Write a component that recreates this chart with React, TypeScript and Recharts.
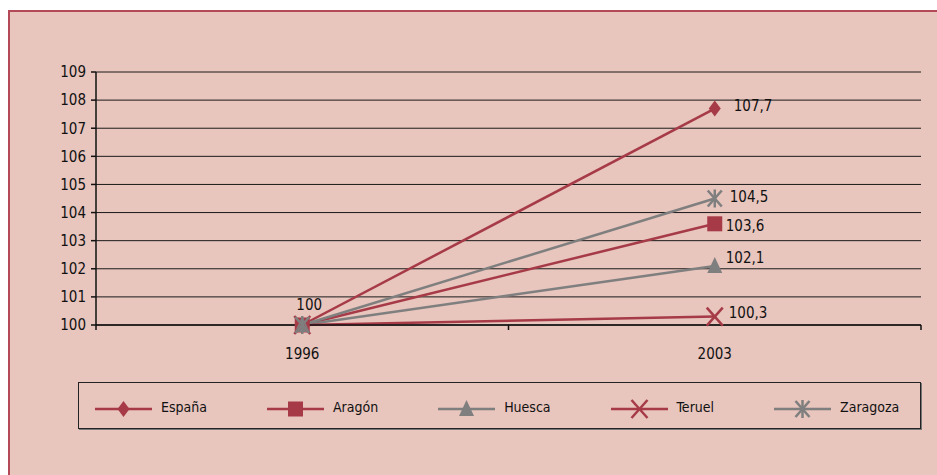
import React from 'react';
import { LineChart, Line, XAxis, YAxis, CartesianGrid, Legend } from 'recharts';

const categories = ['1996', '2003'];
const espana = [100, 107.7];
const aragon = [100, 103.6];
const huesca = [100, 102.1];
const teruel = [100, 100.3];
const zaragoza = [100, 104.5];
const yTicks = [100, 101, 102, 103, 104, 105, 106, 107, 108, 109];

const RED = '#A63A47';
const GREY = '#7F7F7F';
const BG = '#E8C5BD';
const FONT = "'DejaVu Sans Condensed', 'DejaVu Sans', sans-serif";

type Shape = 'diamond' | 'square' | 'triangle' | 'x' | 'star';

const series: { key: string; values: number[]; color: string; shape: Shape; dx: number; dy: number; showFirst?: boolean }[] = [
  { key: 'España', values: espana, color: RED, shape: 'diamond', dx: 19, dy: -3, showFirst: true },
  { key: 'Aragón', values: aragon, color: RED, shape: 'square', dx: 11, dy: 2 },
  { key: 'Huesca', values: huesca, color: GREY, shape: 'triangle', dx: 11, dy: -8 },
  { key: 'Teruel', values: teruel, color: RED, shape: 'x', dx: 14, dy: -4 },
  { key: 'Zaragoza', values: zaragoza, color: GREY, shape: 'star', dx: 15, dy: -2 },
];

const data = categories.map((c, i) => {
  const row: Record<string, number | string> = { x: i + 0.5, year: c };
  series.forEach((s) => {
    row[s.key] = s.values[i];
  });
  return row;
});

const xTicks: number[] = [];
for (let i = 0; i <= categories.length * 2; i++) xTicks.push(i / 2);

const fmt = (v: number) => String(v).replace('.', ',');

function Marker({ cx, cy, shape, color }: { cx: number; cy: number; shape: Shape; color: string }) {
  if (cx == null || cy == null) return null;
  switch (shape) {
    case 'diamond':
      return <polygon points={`${cx},${cy - 8} ${cx + 6},${cy} ${cx},${cy + 8} ${cx - 6},${cy}`} fill={color} />;
    case 'square':
      return <rect x={cx - 7.5} y={cy - 7.5} width={15} height={15} fill={color} />;
    case 'triangle':
      return <polygon points={`${cx},${cy - 9} ${cx + 7.5},${cy + 7} ${cx - 7.5},${cy + 7}`} fill={color} />;
    case 'x':
      return (
        <g stroke={color} strokeWidth={2.5}>
          <line x1={cx - 8} y1={cy - 9} x2={cx + 8} y2={cy + 9} />
          <line x1={cx - 8} y1={cy + 9} x2={cx + 8} y2={cy - 9} />
        </g>
      );
    case 'star':
      return (
        <g stroke={color} strokeWidth={2.5}>
          <line x1={cx - 7} y1={cy - 8} x2={cx + 7} y2={cy + 8} />
          <line x1={cx - 7} y1={cy + 8} x2={cx + 7} y2={cy - 8} />
          <line x1={cx} y1={cy - 9} x2={cx} y2={cy + 9} />
        </g>
      );
  }
  return null;
}

function XTick(props: any) {
  const { x, y, payload } = props;
  const v = payload.value as number;
  if (Number.isInteger(v)) {
    return <line x1={x} y1={y} x2={x} y2={y + 5} stroke="#111" strokeWidth={1.5} />;
  }
  const label = categories[Math.floor(v)];
  return (
    <text x={x} y={y + 34} textAnchor="middle" fontSize={15} fontFamily={FONT} fill="#111">
      {label}
    </text>
  );
}

function LegendContent() {
  return (
    <div
      style={{
        boxSizing: 'border-box',
        width: '100%',
        height: '100%',
        border: '1px solid #222',
        boxShadow: '1px 1px 0 #777',
        display: 'flex',
        alignItems: 'center',
        paddingLeft: 16,
        paddingTop: 7,
        gap: 60,
        fontFamily: FONT,
        fontSize: 14,
        color: '#111',
      }}
    >
      {series.map((s) => (
        <div key={s.key} style={{ display: 'flex', alignItems: 'center' }}>
          <svg width={57} height={20} style={{ display: 'block' }}>
            <line x1={0} y1={10} x2={57} y2={10} stroke={s.color} strokeWidth={2.5} />
            <Marker cx={28.5} cy={10} shape={s.shape} color={s.color} />
          </svg>
          <span style={{ marginLeft: 9, marginTop: -5 }}>{s.key}</span>
        </div>
      ))}
    </div>
  );
}

export default function App() {
  return (
    <div
      style={{
        position: 'absolute',
        left: 8,
        top: 10,
        width: 929,
        height: 465,
        boxSizing: 'border-box',
        background: BG,
        borderTop: '2px solid #B44A58',
        borderLeft: '2px solid #B44A58',
      }}
    >
      <LineChart
        width={927}
        height={463}
        data={data}
        margin={{ top: 60, right: 16, left: 0, bottom: 120 }}
      >
        <CartesianGrid horizontal vertical={false} stroke="#1a1a1a" strokeWidth={1} />
        <XAxis
          dataKey="x"
          type="number"
          domain={[0, categories.length]}
          ticks={xTicks}
          interval={0}
          height={30}
          tickSize={0}
          tickMargin={0}
          tickLine={false}
          axisLine={{ stroke: '#111', strokeWidth: 1.5 }}
          tick={<XTick />}
        />
        <YAxis
          type="number"
          domain={[100, 109]}
          ticks={yTicks}
          interval={0}
          width={86}
          tickSize={5}
          tickMargin={5}
          axisLine={{ stroke: '#111', strokeWidth: 1.5 }}
          tickLine={{ stroke: '#111', strokeWidth: 1.5 }}
          tick={{ fontSize: 15, fontFamily: FONT, fill: '#111' }}
        />
        <Legend
          layout="horizontal"
          verticalAlign="middle"
          align="center"
          content={<LegendContent />}
          wrapperStyle={{ position: 'absolute', left: 68, top: 370, width: 843, height: 47 }}
        />
        {series.map((s) => (
          <Line
            key={s.key}
            dataKey={s.key}
            stroke={s.color}
            strokeWidth={2.5}
            isAnimationActive={false}
            dot={(p: any) => <Marker key={`${s.key}-${p.index}`} cx={p.cx} cy={p.cy} shape={s.shape} color={s.color} />}
            activeDot={false}
            label={(p: any) => {
              const { x, y, value, index } = p;
              if (index === 0 && !s.showFirst) return <g key={`${s.key}-l${index}`} />;
              const dx = index === 0 ? 7 : s.dx;
              const dy = index === 0 ? -20 : s.dy;
              return (
                <text
                  key={`${s.key}-l${index}`}
                  x={x + dx}
                  y={y + dy}
                  textAnchor={index === 0 ? 'middle' : 'start'}
                  dominantBaseline="central"
                  fontSize={15}
                  fontFamily={FONT}
                  fill="#111"
                >
                  {fmt(value)}
                </text>
              );
            }}
          />
        ))}
      </LineChart>
    </div>
  );
}
